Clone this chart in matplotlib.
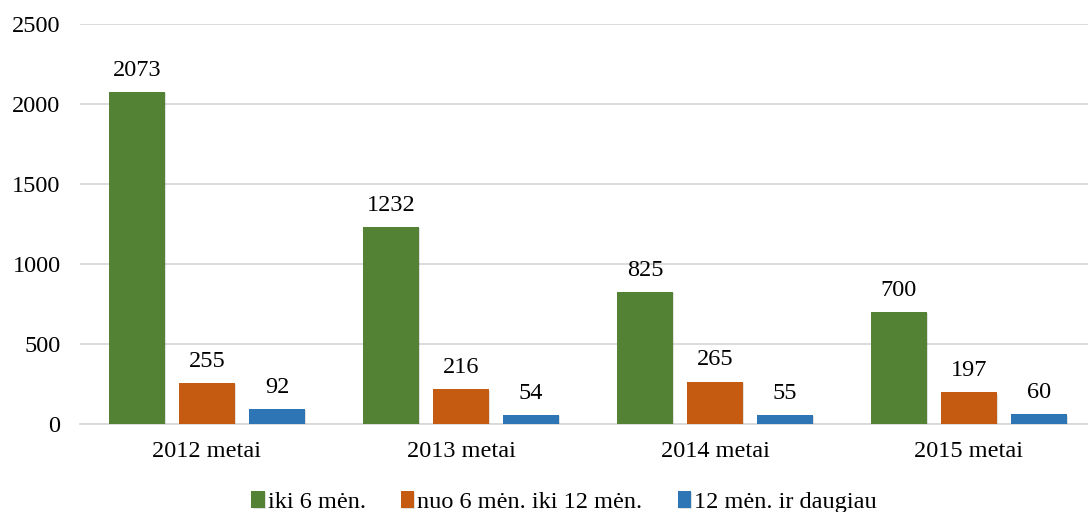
import matplotlib
matplotlib.use("Agg")
import matplotlib.pyplot as plt
import matplotlib.patheffects as pe
import numpy as np

categories = ["2012 metai", "2013 metai", "2014 metai", "2015 metai"]
series_names = ["iki 6 mėn.", "nuo 6 mėn. iki 12 mėn.", "12 mėn. ir daugiau"]
up_to_6 = [2073, 1232, 825, 700]
from_6_to_12 = [255, 216, 265, 197]
over_12 = [92, 54, 55, 60]
colors = ["#548235", "#C55A11", "#2E75B6"]
y_ticks = [0, 500, 1000, 1500, 2000, 2500]

plt.rcParams["font.family"] = ["Liberation Serif", "DejaVu Serif"]
FS = 17.5

fig = plt.figure(figsize=(10.88, 5.12), dpi=100)
ax = fig.add_axes([80 / 1088, 88 / 512, 1016 / 1088, 400 / 512])

x = np.arange(len(categories))
width = 0.22
offset = 0.2756
shadow = [pe.SimplePatchShadow(offset=(0.8, -0.8), shadow_rgbFace="#000000", alpha=0.12), pe.Normal()]

for i, (vals, name, col) in enumerate(zip([up_to_6, from_6_to_12, over_12], series_names, colors)):
    pos = x + (i - 1) * offset
    bars = ax.bar(pos, vals, width=width, color=col, label=name, zorder=3)
    for b in bars:
        b.set_path_effects(shadow)
    for p, v in zip(pos, vals):
        ax.annotate(f"{v}", (p, v), xytext=(0, 8), textcoords="offset points",
                    ha="center", va="bottom", fontsize=FS, color="#000000")

ax.set_xlim(-0.5, len(categories) - 0.5)
ax.set_ylim(0, 2500)
ax.set_yticks(y_ticks)
ax.set_yticklabels([str(t) for t in y_ticks], fontsize=FS)
ax.set_xticks(x)
ax.set_xticklabels(categories, fontsize=FS)
ax.tick_params(axis="both", length=0)
ax.tick_params(axis="y", pad=14)
ax.tick_params(axis="x", pad=12)
ax.yaxis.grid(True, color="#D9D9D9", linewidth=1.3, zorder=0)
for s in ["top", "right", "left"]:
    ax.spines[s].set_visible(False)
ax.spines["bottom"].set_color("#D9D9D9")
ax.spines["bottom"].set_linewidth(1.3)

fig.legend(loc="center", bbox_to_anchor=(564 / 1088, 10 / 512), ncol=3, frameon=False,
           fontsize=FS, handlelength=0.55, handleheight=0.7, handletextpad=0.12,
           columnspacing=1.45)

fig.savefig("out.png", dpi=100)
